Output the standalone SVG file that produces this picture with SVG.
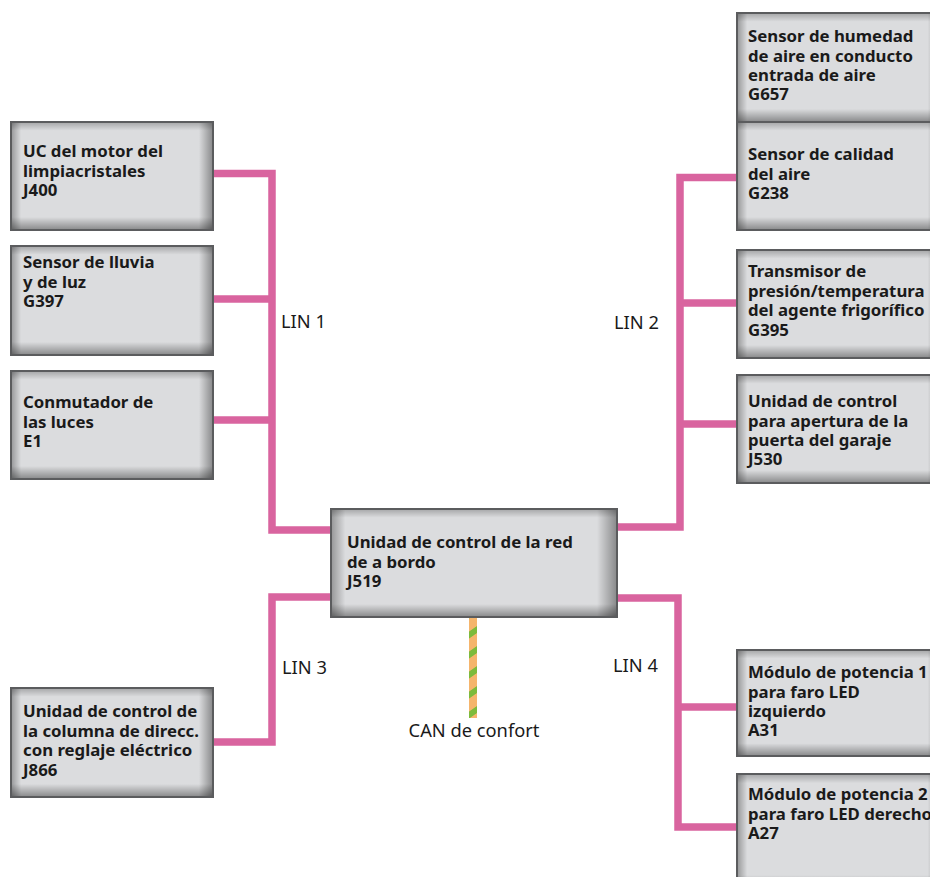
<svg xmlns="http://www.w3.org/2000/svg" width="930" height="877" viewBox="0 0 930 877">
<defs>
<style>
.base{fill:#dbdcde}
.hg{fill:url(#hg)}
.vg{fill:url(#vg)}
.bd{fill:none;stroke:#5b5c5e;stroke-width:2}
.t{font-family:"Noto Sans","Open Sans","Liberation Sans",sans-serif;font-weight:700;font-size:16.8px;fill:#1a1a1a}
.lbl{font-family:"Noto Sans","Open Sans","Liberation Sans",sans-serif;font-size:18.3px;fill:#1a1a1a}
.lin{fill:none;stroke:#d9649f;stroke-width:7.5;stroke-linejoin:miter}
</style>
<linearGradient id="hg" x1="0" y1="0" x2="1" y2="0">
<stop offset="0" stop-color="#000" stop-opacity="0.32"/>
<stop offset="0.05" stop-color="#000" stop-opacity="0"/>
<stop offset="0.93" stop-color="#000" stop-opacity="0"/>
<stop offset="1" stop-color="#000" stop-opacity="0.38"/>
</linearGradient>
<linearGradient id="vg" x1="0" y1="0" x2="0" y2="1">
<stop offset="0" stop-color="#000" stop-opacity="0.25"/>
<stop offset="0.08" stop-color="#000" stop-opacity="0"/>
<stop offset="0.88" stop-color="#000" stop-opacity="0"/>
<stop offset="1" stop-color="#000" stop-opacity="0.38"/>
</linearGradient>
<pattern id="can" patternUnits="userSpaceOnUse" width="20" height="20" patternTransform="skewY(-35)">
<rect x="0" y="0" width="20" height="20" fill="#f5b56c"/>
<rect x="0" y="0" width="20" height="7" fill="#7dbb3c"/>
</pattern>
</defs>
<rect width="930" height="877" fill="#ffffff"/>

<g id="connectors">
<polyline class="lin" points="213,173.5 272,173.5 272,530 331,530"/>
<line class="lin" x1="213" y1="299" x2="272" y2="299"/>
<line class="lin" x1="213" y1="420" x2="272" y2="420"/>
<polyline class="lin" points="737,177.5 680,177.5 680,527 617,527"/>
<line class="lin" x1="680" y1="303" x2="737" y2="303"/>
<line class="lin" x1="680" y1="424" x2="737" y2="424"/>
<polyline class="lin" points="331,597 272,597 272,742 213,742"/>
<polyline class="lin" points="617,598 678,598 678,827 737,827"/>
<line class="lin" x1="678" y1="707" x2="737" y2="707"/>
<rect x="469" y="617" width="8" height="101" fill="url(#can)"/>
<text class="lbl" x="281" y="328">LIN 1</text>
<text class="lbl" x="614" y="329">LIN 2</text>
<text class="lbl" x="282" y="674">LIN 3</text>
<text class="lbl" x="613" y="672">LIN 4</text>
<text class="lbl" x="474" y="737" text-anchor="middle">CAN de confort</text>
</g>

<g id="J400">
<rect class="base" x="11" y="122" width="202" height="108"/><rect class="hg" x="11" y="122" width="202" height="108"/><rect class="vg" x="11" y="122" width="202" height="108"/><rect class="bd" x="11" y="122" width="202" height="108"/>
<text class="t" x="23" y="157">UC del motor del</text>
<text class="t" x="23" y="176.5">limpiacristales</text>
<text class="t" x="23" y="196">J400</text>
</g>

<g id="G397">
<rect class="base" x="11" y="246" width="202" height="109"/><rect class="hg" x="11" y="246" width="202" height="109"/><rect class="vg" x="11" y="246" width="202" height="109"/><rect class="bd" x="11" y="246" width="202" height="109"/>
<text class="t" x="23" y="268">Sensor de lluvia</text>
<text class="t" x="23" y="287.5">y de luz</text>
<text class="t" x="23" y="307">G397</text>
</g>

<g id="E1">
<rect class="base" x="11" y="371" width="202" height="108"/><rect class="hg" x="11" y="371" width="202" height="108"/><rect class="vg" x="11" y="371" width="202" height="108"/><rect class="bd" x="11" y="371" width="202" height="108"/>
<text class="t" x="23" y="408">Conmutador de</text>
<text class="t" x="23" y="427.5">las luces</text>
<text class="t" x="23" y="447">E1</text>
</g>

<g id="J866">
<rect class="base" x="11" y="688" width="202" height="109"/><rect class="hg" x="11" y="688" width="202" height="109"/><rect class="vg" x="11" y="688" width="202" height="109"/><rect class="bd" x="11" y="688" width="202" height="109"/>
<text class="t" x="23" y="717">Unidad de control de</text>
<text class="t" x="23" y="736.5">la columna de direcc.</text>
<text class="t" x="23" y="756">con reglaje eléctrico</text>
<text class="t" x="23" y="775.5">J866</text>
</g>

<g id="J519">
<rect class="base" x="331" y="509" width="286" height="108"/><rect class="hg" x="331" y="509" width="286" height="108"/><rect class="vg" x="331" y="509" width="286" height="108"/><rect class="bd" x="331" y="509" width="286" height="108"/>
<text class="t" x="347" y="548">Unidad de control de la red</text>
<text class="t" x="347" y="567.5">de a bordo</text>
<text class="t" x="347" y="587">J519</text>
</g>

<g id="G657">
<rect class="base" x="737" y="13" width="205" height="109"/><rect class="hg" x="737" y="13" width="205" height="109"/><rect class="vg" x="737" y="13" width="205" height="109"/><rect class="bd" x="737" y="13" width="205" height="109"/>
<text class="t" x="748" y="42">Sensor de humedad</text>
<text class="t" x="748" y="61.5">de aire en conducto</text>
<text class="t" x="748" y="81">entrada de aire</text>
<text class="t" x="748" y="100">G657</text>
</g>

<g id="G238">
<rect class="base" x="737" y="122" width="205" height="108"/><rect class="hg" x="737" y="122" width="205" height="108"/><rect class="vg" x="737" y="122" width="205" height="108"/><rect class="bd" x="737" y="122" width="205" height="108"/>
<text class="t" x="748" y="160">Sensor de calidad</text>
<text class="t" x="748" y="179.5">del aire</text>
<text class="t" x="748" y="199">G238</text>
</g>

<g id="G395">
<rect class="base" x="737" y="250" width="205" height="108"/><rect class="hg" x="737" y="250" width="205" height="108"/><rect class="vg" x="737" y="250" width="205" height="108"/><rect class="bd" x="737" y="250" width="205" height="108"/>
<text class="t" x="748" y="277">Transmisor de</text>
<text class="t" x="748" y="296.5">presión/temperatura</text>
<text class="t" x="748" y="316">del agente frigorífico</text>
<text class="t" x="748" y="336">G395</text>
</g>

<g id="J530">
<rect class="base" x="737" y="375" width="205" height="108"/><rect class="hg" x="737" y="375" width="205" height="108"/><rect class="vg" x="737" y="375" width="205" height="108"/><rect class="bd" x="737" y="375" width="205" height="108"/>
<text class="t" x="748" y="407">Unidad de control</text>
<text class="t" x="748" y="426.5">para apertura de la</text>
<text class="t" x="748" y="446">puerta del garaje</text>
<text class="t" x="748" y="465">J530</text>
</g>

<g id="A31">
<rect class="base" x="737" y="650" width="205" height="106"/><rect class="hg" x="737" y="650" width="205" height="106"/><rect class="vg" x="737" y="650" width="205" height="106"/><rect class="bd" x="737" y="650" width="205" height="106"/>
<text class="t" x="748" y="678">Módulo de potencia 1</text>
<text class="t" x="748" y="697.5">para faro LED</text>
<text class="t" x="748" y="717">izquierdo</text>
<text class="t" x="748" y="736">A31</text>
</g>

<g id="A27">
<rect class="base" x="737" y="774" width="205" height="115"/><rect class="hg" x="737" y="774" width="205" height="115"/><rect class="vg" x="737" y="774" width="205" height="115"/><rect class="bd" x="737" y="774" width="205" height="115"/>
<text class="t" x="748" y="800">Módulo de potencia 2</text>
<text class="t" x="748" y="820">para faro LED derecho</text>
<text class="t" x="748" y="839">A27</text>
</g>
</svg>
